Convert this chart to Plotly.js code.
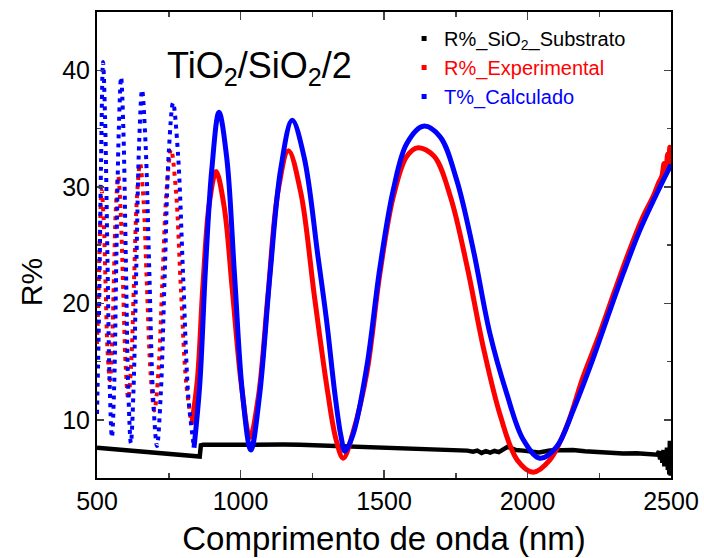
<!DOCTYPE html>
<html>
<head>
<meta charset="utf-8">
<script src="https://cdn.plot.ly/plotly-3.0.1.min.js"></script>
<style>html,body{margin:0;padding:0;background:#fff;}#chart{width:704px;height:558px;}</style>
</head>
<body>
<div id="chart"></div>
<script>
// Wavelength (nm) and R% for each series
const substrateX = [500,550,600,650,685,720,760,800,841,858,862,870,950,1075,1150,1207,1300,1381,1460,1538,1625,1700,1754,1790,1810,1825,1840,1855,1870,1885,1900,1915,1932,1945,1960,1985,2010,2040,2078,2120,2158,2200,2252,2300,2333,2380,2416,2440,2452,2458,2462,2466,2470,2474,2477,2480,2483,2486,2489,2492,2494,2496,2497,2499,2500];
const substrateY = [7.6,7.5,7.42,7.33,7.26,7.18,7.1,7.0,6.9,6.85,7.8,7.85,7.85,7.9,7.87,7.85,7.78,7.7,7.62,7.55,7.5,7.45,7.4,7.35,7.25,7.35,7.15,7.3,7.18,7.32,7.22,7.45,7.7,7.55,7.4,7.35,7.25,7.2,7.35,7.4,7.4,7.3,7.2,7.15,7.1,7.12,7.1,7.05,7.0,7.3,6.6,7.2,6.3,7.4,6.0,7.0,6.4,7.6,5.7,6.8,5.3,8.2,6.0,5.2,6.6];

const experimentalX = [500,505,510,516,523,530,537,545,552,559,566,574,582,591,600,609,619,629,639,650,662,674,687,700,714,728,743,758,775,792,811,830,850,869,891,915,943,972,1003,1033,1063,1096,1130,1167,1210,1258,1303,1333,1358,1393,1440,1486,1532,1579,1619,1675,1732,1790,1848,1906,1964,2020,2078,2136,2194,2250,2300,2350,2400,2440,2458,2468,2476,2482,2488,2492,2496,2500];
const experimentalY = [16.5,20.5,26.0,29.7,27.3,21.5,15.8,13.4,16.0,22.2,28.3,30.9,28.1,21.4,14.6,11.8,14.8,21.9,29.0,32.0,28.9,21.4,13.9,10.8,14.1,22.0,29.9,33.2,29.7,21.4,13.1,9.6,13.5,21.5,28.5,31.3,28.3,21.0,13.0,8.5,12.1,20.8,29.5,33.1,29.5,20.5,12.5,8.3,6.7,9.0,14.0,22.6,29.1,32.6,33.35,32.6,29.1,23.1,16.0,10.3,6.55,5.5,6.55,9.4,13.7,17.3,20.8,24.2,27.3,29.3,30.4,30.9,32.0,31.0,32.8,31.5,33.4,32.2];

const calculatedX = [500,507,514,521,528,536,544,552,560,567.5,576,584,592,600.5,609,618,627,637,647,657,669,682,695,709,722,736,750,765,782,800,818.5,838,858,878,900,925,952,979,1007,1036,1066,1103,1140,1180,1222,1270,1300,1330,1350,1364,1393,1440,1486,1532,1579,1637,1695,1753,1811,1869,1927,1985,2043,2102,2159,2218,2276,2334,2392,2450,2500];
const calculatedY = [10.5,19,32,40.7,36.0,24.6,13.2,8.5,13.0,24.0,34.9,39.4,34.8,23.7,12.6,8.0,12.4,23.2,33.9,38.3,33.8,23.0,12.2,7.75,12.1,22.5,32.9,37.2,32.9,22.4,11.9,7.6,13,23,31.5,36.4,32.5,22.5,12.2,7.4,12,22.5,31.5,35.7,32.5,24,18.5,12,8.6,7.3,8.8,14.55,23.1,29.7,33.7,35.2,34.3,30.6,24.6,17.4,12.3,8.3,6.7,7.7,10.8,14.55,18.6,22.6,26.3,29.4,31.9];

const seriesNames = ['R%_SiO<sub>2</sub>_Substrato','R%_Experimental','T%_Calculado'];
const seriesColors = ['#000000','#ff0000','#0000ff'];

function splitTraces(xs, ys, color, limit) {
  const k = xs.findIndex(v => v >= limit);
  return [
    {x: xs.slice(0, k + 1), y: ys.slice(0, k + 1), mode: 'lines', showlegend: false, hoverinfo: 'skip',
     line: {color: color, width: 4, shape: 'spline', dash: '4px,5px'}},
    {x: xs.slice(k), y: ys.slice(k), mode: 'lines', showlegend: false, hoverinfo: 'skip',
     line: {color: color, width: 5, shape: 'spline'}}
  ];
}

const traces = [];
traces.push({x: substrateX, y: substrateY, mode: 'lines', showlegend: false, hoverinfo: 'skip',
  line: {color: seriesColors[0], width: 4.5}});
traces.push(...splitTraces(experimentalX, experimentalY, seriesColors[1], 830));
traces.push(...splitTraces(calculatedX, calculatedY, seriesColors[2], 838));
// legend entries (small square symbols as in the original)
seriesNames.forEach((n, i) => {
  traces.push({x: [null], y: [null], mode: 'markers', name: '<span style="color:' + seriesColors[i] + '">' + n + '</span>',
    marker: {symbol: 'square', size: 5, color: seriesColors[i]}});
});

const layout = {
  width: 704, height: 558,
  margin: {l: 97, r: 33, t: 12, b: 80},
  paper_bgcolor: '#fff', plot_bgcolor: '#fff',
  font: {family: 'Liberation Sans, Arial, sans-serif', color: '#000'},
  showlegend: true,
  legend: {x: 0.535, y: 0.985, xanchor: 'left', yanchor: 'top', bgcolor: 'rgba(0,0,0,0)',
    font: {size: 20}, tracegroupgap: 0, itemwidth: 30},
  xaxis: {range: [500, 2500], tick0: 500, dtick: 500, ticks: 'inside', ticklen: 8, tickwidth: 1.5,
    showline: true, linewidth: 2, linecolor: '#000', mirror: 'ticks', showgrid: false, zeroline: false,
    minor: {dtick: 250, ticks: 'inside', ticklen: 5, tickwidth: 1.5, showgrid: false},
    tickfont: {size: 25},
    title: {text: 'Comprimento de onda (nm)', font: {size: 33}, standoff: 13}},
  yaxis: {range: [5, 45], tick0: 0, dtick: 10, ticks: 'inside', ticklen: 7, tickwidth: 1.5,
    showline: true, linewidth: 2, linecolor: '#000', mirror: 'ticks', showgrid: false, zeroline: false,
    minor: {dtick: 5, ticks: 'inside', ticklen: 4, tickwidth: 1.5, showgrid: false},
    tickfont: {size: 25}},
  annotations: [
    {text: 'TiO<sub>2</sub>/SiO<sub>2</sub>/2', xref: 'paper', yref: 'paper', x: 0.283, y: 0.88,
     xanchor: 'center', yanchor: 'middle', showarrow: false, font: {size: 36}},
    {text: 'R%', xref: 'paper', yref: 'paper', x: -0.115, y: 0.42, xanchor: 'center', yanchor: 'middle',
     textangle: -90, showarrow: false, font: {size: 30}}
  ]
};

Plotly.newPlot('chart', traces, layout, {staticPlot: true});
</script>
</body>
</html>
